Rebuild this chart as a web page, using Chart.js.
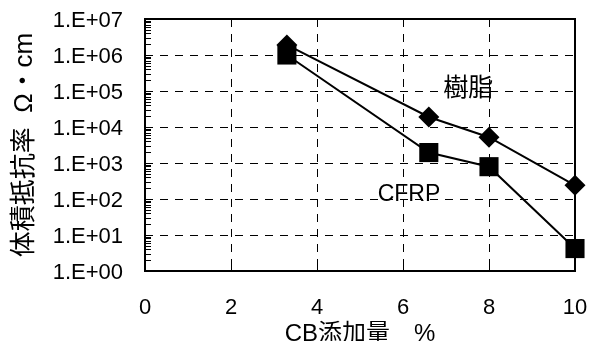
<!DOCTYPE html>
<html lang="ja">
<head>
    <meta charset="UTF-8">
    <title>体積抵抗率とCB添加量</title>
    <script src="https://cdn.jsdelivr.net/npm/chart.js"></script>
    <style>
        html, body {
            margin: 0;
            padding: 0;
            background-color: #ffffff;
        }
    </style>
</head>
<body>
    <canvas id="chart" width="592" height="341"></canvas>
    <script>
        // values
        const cbAmount = [3.3, 6.6, 8.0, 10.0];
        const resinValues = [1.9e6, 1.9e4, 5.2e3, 2.4e2];
        const cfrpValues = [1.0e6, 1.95e3, 7.9e2, 4.2];
        const xTicks = [0, 2, 4, 6, 8, 10];
        const yTicks = [1e0, 1e1, 1e2, 1e3, 1e4, 1e5, 1e6, 1e7];
        const seriesNames = ['樹脂', 'CFRP'];

        const latin = '"Liberation Sans", Arial, sans-serif';
        const mixed = '"Liberation Sans", "Noto Sans CJK JP", sans-serif';

        function toPoints(values) {
            return cbAmount.map((x, i) => ({ x: x, y: values[i] }));
        }

        // dashed grid, frame, inward minor ticks and the in-plot series names
        const decorations = {
            id: 'decorations',
            beforeDatasetsDraw(chart) {
                const { ctx, chartArea: a, scales: { x, y } } = chart;
                ctx.save();
                ctx.strokeStyle = '#000';

                ctx.lineWidth = 1;
                ctx.setLineDash([8, 7]);
                ctx.beginPath();
                yTicks.slice(1, -1).forEach(v => {
                    const py = Math.round(y.getPixelForValue(v)) + 0.5;
                    ctx.moveTo(a.left, py);
                    ctx.lineTo(a.right, py);
                });
                xTicks.slice(1, -1).forEach(v => {
                    const px = Math.round(x.getPixelForValue(v)) + 0.5;
                    ctx.moveTo(px, a.top);
                    ctx.lineTo(px, a.bottom);
                });
                ctx.stroke();

                ctx.setLineDash([]);
                ctx.lineWidth = 2;
                ctx.strokeRect(a.left, a.top, a.right - a.left, a.bottom - a.top);

                ctx.lineWidth = 1;
                ctx.beginPath();
                for (let d = 0; d < yTicks.length - 1; d++) {
                    for (let k = 2; k <= 9; k++) {
                        const py = Math.round(y.getPixelForValue(k * yTicks[d])) + 0.5;
                        ctx.moveTo(a.left, py);
                        ctx.lineTo(a.left + 6, py);
                    }
                }
                xTicks.slice(1, -1).forEach(v => {
                    const px = Math.round(x.getPixelForValue(v)) + 0.5;
                    ctx.moveTo(px, a.bottom);
                    ctx.lineTo(px, a.bottom - 7);
                });
                ctx.stroke();
                ctx.restore();
            },
            afterDraw(chart) {
                const { ctx, scales: { x, y } } = chart;
                ctx.save();
                ctx.fillStyle = '#000';
                ctx.textAlign = 'center';
                ctx.textBaseline = 'middle';
                ctx.font = '25px ' + mixed;
                ctx.fillText(seriesNames[0], x.getPixelForValue(7.52), y.getPixelForValue(1.1e5));
                ctx.font = '23px ' + latin;
                ctx.fillText(seriesNames[1], x.getPixelForValue(6.14), y.getPixelForValue(135));
                ctx.restore();
            }
        };

        const ctx = document.getElementById('chart').getContext('2d');
        new Chart(ctx, {
            type: 'line',
            data: {
                datasets: [
                    {
                        label: seriesNames[0],
                        data: toPoints(resinValues),
                        borderColor: '#000',
                        backgroundColor: '#000',
                        borderWidth: 2,
                        pointStyle: 'rectRot',
                        pointRadius: 10.5,
                        pointBorderWidth: 0,
                        clip: false
                    },
                    {
                        label: seriesNames[1],
                        data: toPoints(cfrpValues),
                        borderColor: '#000',
                        backgroundColor: '#000',
                        borderWidth: 2,
                        pointStyle: 'rect',
                        pointRadius: 13.5,
                        pointBorderWidth: 0,
                        clip: false
                    }
                ]
            },
            options: {
                responsive: false,
                animation: false,
                layout: {
                    padding: { top: 19, right: 17, left: 0, bottom: 0 }
                },
                plugins: {
                    legend: { display: false },
                    tooltip: { enabled: false }
                },
                scales: {
                    x: {
                        type: 'linear',
                        min: 0,
                        max: 10,
                        afterBuildTicks: scale => {
                            scale.ticks = xTicks.map(v => ({ value: v }));
                        },
                        afterFit: scale => {
                            scale.height = 70;
                            scale.paddingLeft = 0;
                            scale.paddingRight = 0;
                        },
                        grid: { display: false, drawTicks: false },
                        border: { display: false },
                        ticks: {
                            color: '#000',
                            padding: 24,
                            maxRotation: 0,
                            font: { family: latin, size: 22 }
                        },
                        title: {
                            display: true,
                            text: 'CB添加量　%',
                            color: '#000',
                            padding: { top: 0, bottom: -8 },
                            font: { family: mixed, size: 24 }
                        }
                    },
                    y: {
                        type: 'logarithmic',
                        min: 1,
                        max: 1e7,
                        afterBuildTicks: scale => {
                            scale.ticks = yTicks.map(v => ({ value: v }));
                        },
                        afterFit: scale => {
                            scale.width = 145;
                            scale.paddingTop = 0;
                            scale.paddingBottom = 0;
                        },
                        grid: { display: false, drawTicks: false },
                        border: { display: false },
                        ticks: {
                            color: '#000',
                            padding: 22,
                            labelOffset: 2,
                            autoSkip: false,
                            font: { family: latin, size: 22 },
                            callback: v => '1.E+' + String(Math.round(Math.log10(v))).padStart(2, '0')
                        },
                        title: {
                            display: true,
                            text: '体積抵抗率  Ω・cm',
                            color: '#000',
                            padding: { top: 9, bottom: 0 },
                            font: { family: mixed, size: 26 }
                        }
                    }
                }
            },
            plugins: [decorations]
        });
    </script>
</body>
</html>
